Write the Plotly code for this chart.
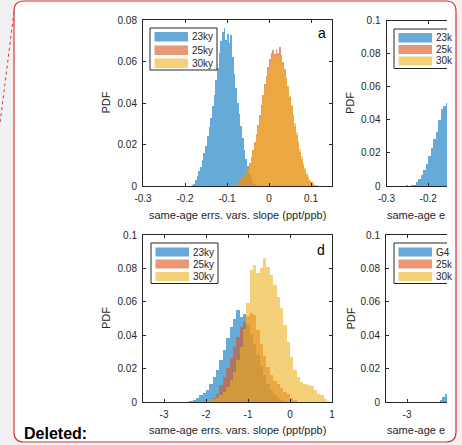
import numpy as np
import plotly.graph_objects as go

# ---- data ---------------------------------------------------------------
# panel a: same-age errs. vars. slope (ppt/ppb), bins of 0.004
A_BIN_W = 0.004
A_23KY_START = -0.182
A_23KY = [0.0005, 0.0012, 0.0030, 0.0048, 0.0070, 0.0092, 0.0125, 0.0160, 0.0195,
          0.0240, 0.0285, 0.0330, 0.0385, 0.0440, 0.0510, 0.0570, 0.0640, 0.0700,
          0.0740, 0.0762, 0.0705, 0.0732, 0.0690, 0.0728, 0.0620, 0.0540, 0.0470,
          0.0400, 0.0345, 0.0290, 0.0230, 0.0175, 0.0130, 0.0095, 0.0060, 0.0038,
          0.0020, 0.0008]
A_25KY_START = -0.086
A_25KY = [0.0003, 0.0006, 0.0010, 0.0015, 0.0022, 0.0030, 0.0040, 0.0052, 0.0068,
          0.0088, 0.0112, 0.0140, 0.0172, 0.0210, 0.0250, 0.0295, 0.0340, 0.0390,
          0.0440, 0.0490, 0.0530, 0.0575, 0.0610, 0.0640, 0.0655, 0.0635, 0.0660,
          0.0640, 0.0672, 0.0630, 0.0600, 0.0565, 0.0520, 0.0480, 0.0430, 0.0385,
          0.0335, 0.0290, 0.0245, 0.0205, 0.0165, 0.0130, 0.0100, 0.0075, 0.0055,
          0.0038, 0.0026, 0.0017, 0.0010, 0.0005, 0.0002]
A_30KY_START = -0.086
A_30KY = [0.0004, 0.0007, 0.0011, 0.0016, 0.0023, 0.0031, 0.0041, 0.0053, 0.0067,
          0.0085, 0.0106, 0.0132, 0.0162, 0.0196, 0.0235, 0.0278, 0.0322, 0.0368,
          0.0415, 0.0462, 0.0505, 0.0545, 0.0580, 0.0605, 0.0620, 0.0630, 0.0615,
          0.0628, 0.0610, 0.0600, 0.0585, 0.0555, 0.0520, 0.0478, 0.0435, 0.0392,
          0.0348, 0.0302, 0.0260, 0.0218, 0.0180, 0.0145, 0.0113, 0.0087, 0.0064,
          0.0046, 0.0031, 0.0021, 0.0013, 0.0007, 0.0003]

# panel b (cut off at the right edge), bins of 0.006
B_BIN_W = 0.006
B_23KY_START = -0.252
B_23KY = [0.0008, 0.0004, 0.0012, 0.0010, 0.0030, 0.0045, 0.0072, 0.0100, 0.0135,
          0.0185, 0.0230, 0.0290, 0.0330, 0.0400, 0.0470, 0.0485, 0.0505, 0.0540]

# panel d, bins of 0.08
D_BIN_W = 0.08
D_23KY_START = -2.36
D_23KY = [0.0004, 0.0010, 0.0022, 0.0040, 0.0052, 0.0070, 0.0105, 0.0150, 0.0190,
          0.0250, 0.0310, 0.0385, 0.0450, 0.0495, 0.0552, 0.0510, 0.0525, 0.0470,
          0.0410, 0.0345, 0.0280, 0.0215, 0.0160, 0.0110, 0.0072, 0.0042, 0.0022,
          0.0010]
D_25KY_START = -1.88
D_25KY = [0.0010, 0.0025, 0.0050, 0.0100, 0.0150, 0.0205, 0.0265, 0.0330, 0.0390,
          0.0450, 0.0480, 0.0515, 0.0530, 0.0520, 0.0430, 0.0350, 0.0275, 0.0210,
          0.0160, 0.0125, 0.0105, 0.0082, 0.0062, 0.0045, 0.0025, 0.0010]
D_30KY_START = -1.96
D_30KY = [0.0005, 0.0010, 0.0016, 0.0025, 0.0040, 0.0060, 0.0090, 0.0130, 0.0180,
          0.0250, 0.0330, 0.0440, 0.0590, 0.0790, 0.0820, 0.0770, 0.0800, 0.0860,
          0.0810, 0.0760, 0.0700, 0.0630, 0.0560, 0.0460, 0.0360, 0.0270, 0.0190,
          0.0150, 0.0120, 0.0105, 0.0100, 0.0095, 0.0070, 0.0050, 0.0040, 0.0020,
          0.0008]

# panel e (cut off), only the left tail of G4 is visible
E_BIN_W = 0.06
E_G4_START = -2.19
E_G4 = [0.0015, 0.0030, 0.0050]

LEGEND_LEFT = ["23ky", "25ky", "30ky"]
LEGEND_B = ["23k", "25k", "30k"]
LEGEND_E = ["G4", "25k", "30k"]

A_XTICKS = [-0.3, -0.2, -0.1, 0, 0.1]
A_XTICKTEXT = ["-0.3", "-0.2", "-0.1", "0", "0.1"]
A_YTICKS = [0, 0.02, 0.04, 0.06, 0.08]
A_YTICKTEXT = ["0", "0.02", "0.04", "0.06", "0.08"]
Y10_TICKS = [0, 0.02, 0.04, 0.06, 0.08, 0.1]
Y10_TICKTEXT = ["0", "0.02", "0.04", "0.06", "0.08", "0.1"]
D_XTICKS = [-3, -2, -1, 0, 1]
D_XTICKTEXT = ["-3", "-2", "-1", "0", "1"]

XLABEL = "same-age errs. vars. slope (ppt/ppb)"
XLABEL_CUT = "same-age e"

# ---- styling -------------------------------------------------------------
W, H = 462, 445
FONT = "Liberation Sans, Arial, Helvetica, sans-serif"
INK = "#262626"
BLUE = "rgba(0,114,189,0.6)"
ORANGE = "rgba(217,83,25,0.6)"
YELLOW = "rgba(237,177,32,0.6)"
RED = "#d9383a"
PAGE = "#f1f1f1"


def fx(px):
    return px / W


def fy(py):
    return 1 - py / H


def centers(start, n, w):
    return list(start + w * np.arange(n))


fig = go.Figure()


def add_hist(start, vals, w, color, ax):
    fig.add_trace(go.Bar(
        x=centers(start, len(vals), w), y=vals, width=w,
        marker=dict(color=color, line=dict(width=0)),
        xaxis="x" + ax, yaxis="y" + ax, showlegend=False, hoverinfo="skip"))


add_hist(A_23KY_START, A_23KY, A_BIN_W, BLUE, "")
add_hist(A_25KY_START, A_25KY, A_BIN_W, ORANGE, "")
add_hist(A_30KY_START, A_30KY, A_BIN_W, YELLOW, "")
add_hist(B_23KY_START, B_23KY, B_BIN_W, BLUE, "2")
add_hist(D_23KY_START, D_23KY, D_BIN_W, BLUE, "3")
add_hist(D_25KY_START, D_25KY, D_BIN_W, ORANGE, "3")
add_hist(D_30KY_START, D_30KY, D_BIN_W, YELLOW, "3")
add_hist(E_G4_START, E_G4, E_BIN_W, BLUE, "4")


def axis(dom, rng, tv, tt, anchor, mirror):
    return dict(domain=dom, range=rng, tickvals=tv, ticktext=tt, anchor=anchor,
                showline=True, linecolor=INK, linewidth=1, mirror=mirror,
                ticks="inside", ticklen=3, tickcolor=INK, tickwidth=1,
                showgrid=False, zeroline=False, ticklabelstandoff=3, automargin=False,
                tickfont=dict(size=10, color=INK, family=FONT), fixedrange=True)


fig.update_layout(
    xaxis=axis([fx(143), fx(332)], [-0.3, 0.15], A_XTICKS, A_XTICKTEXT, "y", "ticks"),
    yaxis=axis([fy(186), fy(20)], [0, 0.08], A_YTICKS, A_YTICKTEXT, "x", "ticks"),
    xaxis2=axis([fx(386.5), fx(447)], [-0.3, -0.1548], A_XTICKS, A_XTICKTEXT, "y2", "ticks"),
    yaxis2=axis([fy(186), fy(20.5)], [0, 0.1], Y10_TICKS, Y10_TICKTEXT, "x2", False),
    xaxis3=axis([fx(143), fx(332)], [-3.5, 1], D_XTICKS, D_XTICKTEXT, "y3", "ticks"),
    yaxis3=axis([fy(402), fy(235)], [0, 0.1], Y10_TICKS, Y10_TICKTEXT, "x3", "ticks"),
    xaxis4=axis([fx(386), fx(447)], [-3.5, -2.048], D_XTICKS, D_XTICKTEXT, "y4", "ticks"),
    yaxis4=axis([fy(402), fy(235)], [0, 0.1], Y10_TICKS, Y10_TICKTEXT, "x4", False),
)

shapes = []
# comment balloon: grey page, white box with red rounded border
L, R, T, B, r = 14, 456, 1, 442, 10
path = (f"M {fx(L + r)},{fy(T)} L {fx(R - r)},{fy(T)} Q {fx(R)},{fy(T)} {fx(R)},{fy(T + r)} "
        f"L {fx(R)},{fy(B - r)} Q {fx(R)},{fy(B)} {fx(R - r)},{fy(B)} "
        f"L {fx(L + r)},{fy(B)} Q {fx(L)},{fy(B)} {fx(L)},{fy(B - r)} "
        f"L {fx(L)},{fy(T + r)} Q {fx(L)},{fy(T)} {fx(L + r)},{fy(T)} Z")
shapes.append(dict(type="path", path=path, xref="paper", yref="paper", layer="below",
                   fillcolor="white", line=dict(color=RED, width=1.2)))
shapes.append(dict(type="line", xref="paper", yref="paper", x0=fx(14), y0=fy(12),
                   x1=fx(0), y1=fy(123), line=dict(color=RED, width=1, dash="dot")))

annotations = []


def text(x, y, s, size=11, xanchor="center", angle=0, bold=False, color=INK):
    annotations.append(dict(
        x=fx(x), y=fy(y), xref="paper", yref="paper", text=f"<b>{s}</b>" if bold else s,
        showarrow=False, xanchor=xanchor, yanchor="middle", textangle=angle,
        font=dict(size=size, color=color, family=FONT)))


def legend(x0, x1, y0, y1, rows, labels, closed=True):
    shapes.append(dict(type="rect", xref="paper", yref="paper", layer="above",
                       x0=fx(x0), x1=fx(x1), y0=fy(y1), y1=fy(y0),
                       fillcolor="white", line=dict(width=0)))
    if closed:
        shapes.append(dict(type="rect", xref="paper", yref="paper", layer="above",
                           x0=fx(x0), x1=fx(x1), y0=fy(y1), y1=fy(y0),
                           line=dict(color=INK, width=1)))
    else:
        shapes.append(dict(type="path", xref="paper", yref="paper", layer="above",
                           path=f"M {fx(x1)},{fy(y0)} L {fx(x0)},{fy(y0)} L {fx(x0)},{fy(y1)} L {fx(x1)},{fy(y1)}",
                           line=dict(color=INK, width=1)))
    px0 = x0 + 4.5
    px1 = px0 + 33.5
    for (ya, yb), lab, col in zip(rows, labels, [BLUE, ORANGE, YELLOW]):
        shapes.append(dict(type="rect", xref="paper", yref="paper", layer="above",
                           x0=fx(px0), x1=fx(px1), y0=fy(yb), y1=fy(ya),
                           fillcolor=col, line=dict(width=0)))
        text(px1 + 2, (ya + yb) / 2, lab, size=10, xanchor="left")


legend(150, 217, 28, 70, [(32, 41.5), (45.5, 55), (58.5, 68)], LEGEND_LEFT)
legend(151, 218, 243, 283.5, [(247.5, 256.5), (259.5, 268.5), (272, 281)], LEGEND_LEFT)
legend(394, 447, 29, 68.5, [(33, 42.5), (45, 54), (56.5, 65.5)], LEGEND_B, closed=False)
legend(394, 447, 243, 283.5, [(247.5, 256.5), (259.5, 268.5), (272, 281)], LEGEND_E, closed=False)

text(105.5, 103, "PDF", angle=-90)
text(105.5, 318.5, "PDF", angle=-90)
text(350, 103, "PDF", angle=-90)
text(350, 318.5, "PDF", angle=-90)
text(237.5, 215, XLABEL)
text(237.5, 430, XLABEL)
text(384.5, 215, XLABEL_CUT, xanchor="left")
text(384.5, 430, XLABEL_CUT, xanchor="left")
text(321.5, 33, "a", size=14, color="black")
text(320.5, 250, "d", size=14, color="black")
text(22, 433.5, "Deleted:", size=16, xanchor="left", bold=True, color="black")

fig.update_layout(
    width=W, height=H,
    margin=dict(l=0, r=0, t=0, b=0, pad=0, autoexpand=False),
    paper_bgcolor=PAGE,
    plot_bgcolor="rgba(0,0,0,0)",
    barmode="overlay", bargap=0,
    font=dict(family=FONT, color=INK),
    shapes=shapes, annotations=annotations,
    showlegend=False,
)

# the page's default body margin would shift the figure by 8 px
fig.write_html("out.html", config={"displayModeBar": False},
               post_script="document.body.style.margin='0';"
                           f"document.body.style.background='{PAGE}';")
